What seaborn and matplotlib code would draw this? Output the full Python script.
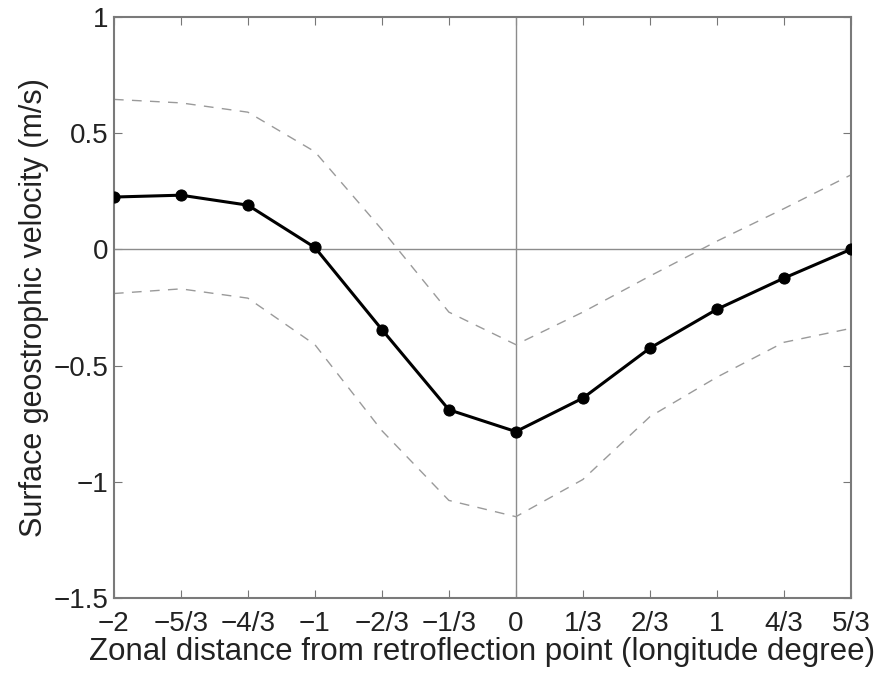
import numpy as np
import pandas as pd
import matplotlib
matplotlib.use("Agg")
import matplotlib.pyplot as plt
import seaborn as sns

# Zonal distance (degrees of longitude) from the retroflection point
distance = np.arange(-6, 6) / 3.0
tick_labels = ["\u22122", "\u22125/3", "\u22124/3", "\u22121", "\u22122/3", "\u22121/3",
               "0", "1/3", "2/3", "1", "4/3", "5/3"]

# Mean surface geostrophic velocity (m/s) and the envelope around it
velocity = [0.225, 0.233, 0.19, 0.008, -0.345, -0.69, -0.784, -0.64, -0.425, -0.258, -0.124, 0.0]
upper = [0.645, 0.63, 0.59, 0.42, 0.085, -0.27, -0.41, -0.27, -0.115, 0.035, 0.175, 0.32]
lower = [-0.19, -0.17, -0.21, -0.41, -0.78, -1.08, -1.15, -0.99, -0.72, -0.55, -0.40, -0.34]

y_ticks = [-1.5, -1, -0.5, 0, 0.5, 1]
y_tick_labels = ["\u22121.5", "\u22121", "\u22120.5", "0", "0.5", "1"]

df = pd.DataFrame({"distance": distance, "velocity": velocity,
                   "upper": upper, "lower": lower})

sns.set_theme(style="white")
plt.rcParams["font.family"] = ["Liberation Sans", "DejaVu Sans"]

fig = plt.figure(figsize=(8.9, 6.75), dpi=100)
ax = fig.add_axes([0.128, 0.114, 0.828, 0.861])

# reference lines through the origin
ax.axhline(0, color="#8c8c8c", lw=1.0, zorder=1)
ax.axvline(0, color="#8c8c8c", lw=1.0, zorder=1)

for col in ("upper", "lower"):
    sns.lineplot(data=df, x="distance", y=col, ax=ax, color="#9a9a9a",
                 lw=1.0, linestyle=(0, (7, 6)), zorder=2)

sns.lineplot(data=df, x="distance", y="velocity", ax=ax, color="black",
             lw=2.2, marker="o", markersize=8, markeredgecolor="black", zorder=3)

ax.set_xlim(-2, 5 / 3)
ax.set_ylim(-1.5, 1)
ax.set_xticks(distance)
ax.set_xticklabels(tick_labels)
ax.set_yticks(y_ticks)
ax.set_yticklabels(y_tick_labels)

ax.tick_params(axis="both", direction="in", length=6, width=0.8, color="#777777",
               labelsize=20, labelcolor="#222222", top=True, right=True,
               bottom=True, left=True, pad=4)
ax.tick_params(axis="x", pad=9)

for s in ax.spines.values():
    s.set_visible(True)
    s.set_color("#7a7a7a")
    s.set_linewidth(1.5)

ax.set_xlabel("Zonal distance from retroflection point (longitude degree)",
              fontsize=22.5, color="#222222", labelpad=0)
ax.set_ylabel("Surface geostrophic velocity (m/s)", fontsize=22,
              color="#222222", labelpad=3)

fig.savefig("out.png", dpi=100, facecolor="white")
